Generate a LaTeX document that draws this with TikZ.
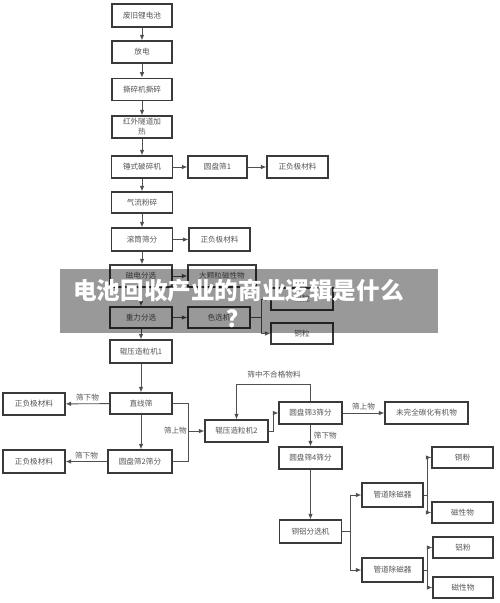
\documentclass[tikz,border=0pt]{standalone}
\usepackage{fontspec}
\newfontfamily\cjk{Noto Sans CJK SC}
\usetikzlibrary{arrows.meta}
\definecolor{boxc}{HTML}{3A3A3A}
\definecolor{linec}{HTML}{505050}
\definecolor{txtc}{HTML}{555555}
\begin{document}
\begin{tikzpicture}[x=1pt,y=-1pt,
  bx/.style={draw=boxc, line width=1.2pt, fill=white, inner sep=0pt, minimum width=62pt, minimum height=22pt, font=\cjk\fontsize{7.6}{10}\selectfont, text=txtc, align=center},
  lbl/.style={font=\cjk\fontsize{7.6}{9}\selectfont, text=txtc, inner sep=1pt},
  ar/.style={draw=linec, line width=0.9pt, -{Latex[length=5.5pt,width=4.5pt]}},
  ln/.style={draw=linec, line width=0.9pt}]
\useasboundingbox (0,0) rectangle (500,603);
\fill[white] (0,0) rectangle (500,603);
% main column
\node[bx, minimum width=60pt, minimum height=23pt] (n1) at (142,15.5) {废旧锂电池};
\node[bx, minimum width=60pt] (n2) at (142,52) {放电};
\node[bx, minimum width=60pt] (n3) at (142,89.3) {撕碎机撕碎};
\node[bx, minimum width=60pt] (n4) at (142,127) {红外隧道加\\热};
\node[bx, minimum width=61pt] (n5) at (142,167) {锤式破碎机};
\node[bx, minimum width=59pt] (n6) at (217.5,167) {圆盘筛1};
\node[bx, minimum width=61pt] (n7) at (297.5,167) {正负极材料};
\node[bx, minimum width=61pt, minimum height=21pt] (n8) at (142,202.5) {气流粉碎};
\node[bx, minimum width=61pt, minimum height=23pt] (n9) at (142,239.5) {滚筒筛分};
\node[bx, minimum width=61pt, minimum height=23pt] (n10) at (219.5,239.5) {正负极材料};
\node[bx] (n11) at (141,276) {磁电分选};
\node[bx, minimum width=68pt] (n12) at (222,276) {大颗粒磁性物};
\node[bx, minimum height=21pt] (n13) at (141,317.5) {重力分选};
\node[bx, minimum height=21pt] (n14) at (219,317.5) {色选机};
\node[bx] (n15) at (302,299) {铝粒};
\node[bx, minimum height=21pt] (n16) at (302,333.5) {铜粒};
\node[bx, minimum height=23pt] (n17) at (141,351.5) {辊压造粒机1};
\node[bx, minimum height=21pt] (n18) at (141,403.5) {直线筛};
\node[bx] (n19) at (34,404) {正负极材料};
\node[bx, minimum width=64pt, minimum height=23pt] (n20) at (140,461.5) {圆盘筛2筛分};
\node[bx, minimum height=23pt] (n21) at (34,461.5) {正负极材料};
\node[bx, minimum width=63pt] (n22) at (236.5,431) {辊压造粒机2};
\node[bx, minimum width=63pt] (n23) at (310.5,413) {圆盘筛3筛分};
\node[bx, minimum width=83pt] (n24) at (426.5,413) {未完全碳化有机物};
\node[bx, minimum width=63pt] (n25) at (310.5,458) {圆盘筛4筛分};
\node[bx, minimum height=23pt] (n26) at (310.5,531.5) {铜铝分选机};
\node[bx, minimum width=61pt, minimum height=24pt] (n27) at (392.5,495) {管道除磁器};
\node[bx, minimum width=61pt, minimum height=24pt] (n28) at (392.5,570) {管道除磁器};
\node[bx, minimum width=61pt, minimum height=21pt] (n29) at (462.5,457.5) {铜粉};
\node[bx, minimum width=61pt, minimum height=21pt] (n30) at (462.5,512.5) {磁性物};
\node[bx, minimum width=60pt, minimum height=21pt] (n31) at (463,547.5) {铝粉};
\node[bx, minimum width=60pt, minimum height=21pt] (n32) at (463,587.5) {磁性物};
% vertical chain
\draw[ar] (n1) -- (n2);
\draw[ar] (n2) -- (n3);
\draw[ar] (n3) -- (n4);
\draw[ar] (n4) -- (n5);
\draw[ar] (n5) -- (n8);
\draw[ar] (n8) -- (n9);
\draw[ar] (n9.south) -- (n9.south |- n11.north);
\draw[ar] (n11) -- (n13);
\draw[ar] (n13) -- (n17);
\draw[ar] (n17) -- (n18);
\draw[ar] (n18.south) -- (n18.south |- n20.north);
% horizontal
\draw[ar] (n5) -- (n6);
\draw[ar] (n6) -- (n7);
\draw[ar] (n9) -- (n10);
\draw[ar] (n11) -- (n12);
\draw[ar] (n13) -- (n14);
\coordinate (b1) at (261,317.5);
\draw[ln] (n14.east) -- (b1);
\draw[ar] (b1) |- (n15.west);
\draw[ar] (b1) |- (n16.west);
% 直线筛 / 圆盘筛2
\draw[ar] (n18) -- (n19) node[lbl, midway, above=1pt] {筛下物};
\draw[ar] (n20) -- (n21) node[lbl, midway, above=1pt] {筛下物};
\coordinate (j1) at (188,431);
\draw[ln] (n18.east) -| (j1);
\draw[ln] (n20.east) -| (j1);
\draw[ar] (j1) -- (n22.west);
\node[lbl, anchor=east] (l1) at (j1) {筛上物};
% 辊压造粒机2 / 圆盘筛3
\draw[ar] (n22.east) -- ++(5,0) |- (n23.west);
\draw[ar] (n23.north) -- ++(0,-17) -| (n22.north);
\node[lbl] (l2) at (274,375) {筛中不合格物料};
\draw[ar] (n23) -- (n24) node[lbl, midway, above=1pt] {筛上物};
\draw[ar] (n23) -- (n25) node[lbl, midway, right=2pt] {筛下物};
\draw[ar] (n25) -- (n26);
% 铜铝分选机 branches
\coordinate (b2) at (350,531.5);
\draw[ln] (n26.east) -- (b2);
\draw[ar] (b2) |- (n27.west);
\draw[ar] (b2) |- (n28.west);
\coordinate (b3) at (427,495);
\draw[ln] (n27.east) -- (b3);
\draw[ar] (b3) |- (n29.west);
\draw[ar] (b3) |- (n30.west);
\coordinate (b4) at (427,570);
\draw[ln] (n28.east) -- (b4);
\draw[ar] (b4) |- (n31.west);
\draw[ar] (b4) |- (n32.west);
% banner
\fill[black, fill opacity=0.4] (60,269) rectangle (438,333);
\node[text=white, font=\cjk\bfseries\fontsize{23.6}{28}\selectfont, align=center, inner sep=0pt] (title) at (238.5,303) {电池回收产业的商业逻辑是什么\\？};
\end{tikzpicture}
\end{document}
